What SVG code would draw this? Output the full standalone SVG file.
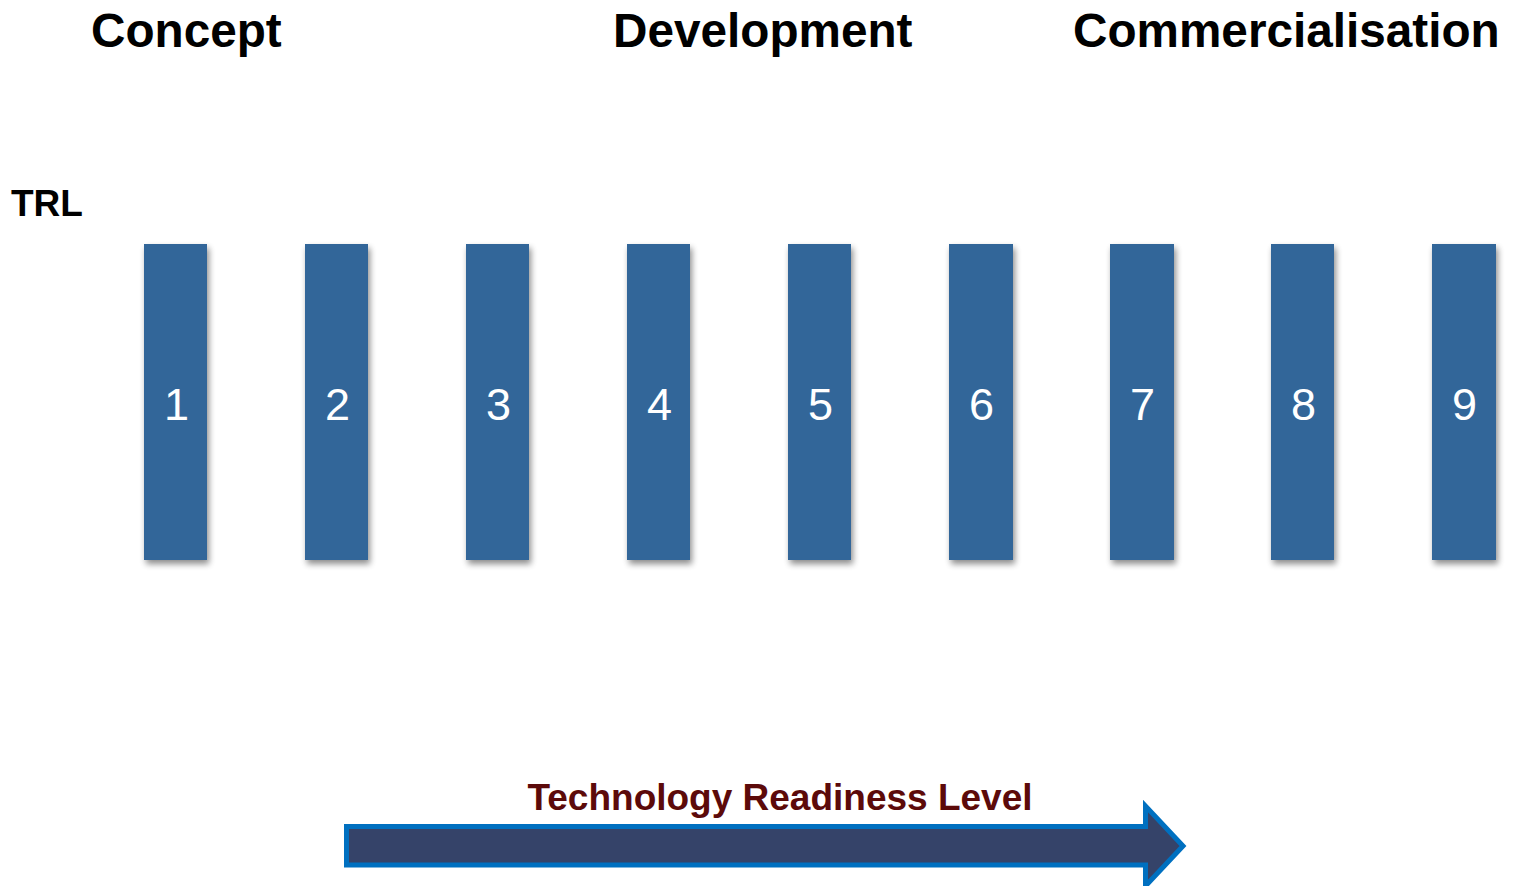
<svg xmlns="http://www.w3.org/2000/svg" width="1523" height="886" viewBox="0 0 1523 886">
<style>
.title{font-family:"Liberation Sans",Arial,sans-serif;font-weight:bold;font-size:47.7px;fill:#000}
.trl{font-family:"Liberation Sans",Arial,sans-serif;font-weight:bold;font-size:37px;fill:#000}
.bar{fill:#336699;filter:url(#sh)}
.num{font-family:"Liberation Sans",Arial,sans-serif;font-size:45px;fill:#fff;text-anchor:middle}
.lbl{font-family:"Liberation Sans",Arial,sans-serif;font-weight:bold;font-size:37px;fill:#5C0A0A;text-anchor:middle}
</style>
<defs>
<filter id="sh" x="-30%" y="-10%" width="160%" height="120%">
<feGaussianBlur in="SourceAlpha" stdDeviation="3"/>
<feOffset dx="2" dy="4" result="b"/>
<feComponentTransfer><feFuncA type="linear" slope="0.45"/></feComponentTransfer>
<feMerge><feMergeNode/><feMergeNode in="SourceGraphic"/></feMerge>
</filter>
</defs>
<rect width="1523" height="886" fill="#fff"/>
<g id="titles">
<text class="title" x="91" y="47">Concept</text>
<text class="title" x="613" y="47">Development</text>
<text class="title" x="1073" y="47">Commercialisation</text>
<text class="trl" x="11" y="216">TRL</text>
</g>
<g id="trl1"><rect class="bar" x="144" y="244" width="63" height="316"/><text class="num" x="176.5" y="420">1</text></g>
<g id="trl2"><rect class="bar" x="305" y="244" width="63" height="316"/><text class="num" x="337.5" y="420">2</text></g>
<g id="trl3"><rect class="bar" x="466" y="244" width="63" height="316"/><text class="num" x="498.5" y="420">3</text></g>
<g id="trl4"><rect class="bar" x="627" y="244" width="63" height="316"/><text class="num" x="659.5" y="420">4</text></g>
<g id="trl5"><rect class="bar" x="788" y="244" width="63" height="316"/><text class="num" x="820.5" y="420">5</text></g>
<g id="trl6"><rect class="bar" x="949" y="244" width="64" height="316"/><text class="num" x="981.5" y="420">6</text></g>
<g id="trl7"><rect class="bar" x="1110" y="244" width="64" height="316"/><text class="num" x="1142.5" y="420">7</text></g>
<g id="trl8"><rect class="bar" x="1271" y="244" width="63" height="316"/><text class="num" x="1303.5" y="420">8</text></g>
<g id="trl9"><rect class="bar" x="1432" y="244" width="64" height="316"/><text class="num" x="1464.5" y="420">9</text></g>
<g id="arrow">
<path d="M346.5,826.5 H1145.5 V806 L1183,846 L1145.5,886 V865 H346.5 Z" fill="#354369" stroke="#0070C0" stroke-width="5" stroke-linejoin="miter"/>
<text class="lbl" x="780" y="810">Technology Readiness Level</text>
</g>
</svg>
